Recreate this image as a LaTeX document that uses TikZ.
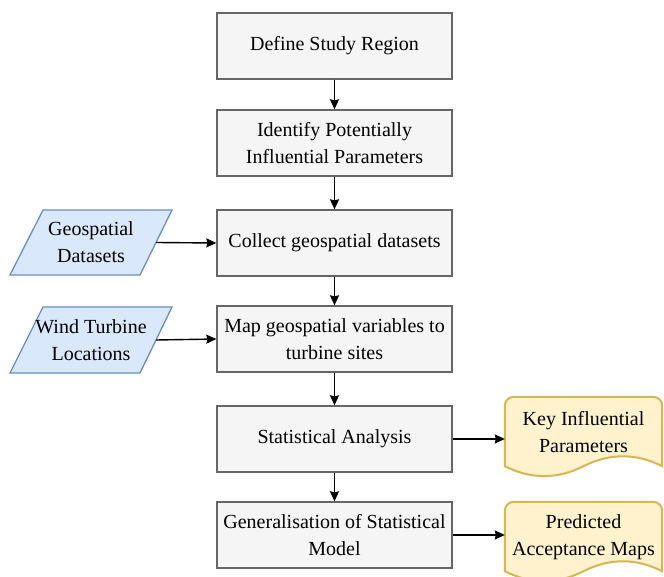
\documentclass[tikz,border=0pt]{standalone}
\usepackage{fontspec}
\setmainfont{Liberation Serif}
\usetikzlibrary{calc,arrows.meta}
\definecolor{boxfill}{HTML}{F5F5F5}
\definecolor{boxline}{HTML}{666666}
\definecolor{parafill}{HTML}{DAE8FC}
\definecolor{paraline}{HTML}{6C8EBF}
\definecolor{docfill}{HTML}{FFF2CC}
\definecolor{docline}{HTML}{D6B656}
\begin{document}
\begin{tikzpicture}[x=1pt,y=-1pt,
  every node/.style={font=\fontsize{20}{27}\selectfont, align=center, inner sep=0pt},
  stepbox/.style={draw=boxline, fill=boxfill, line width=1.3pt, minimum width=235, minimum height=66},
  paranode/.style={minimum width=130, minimum height=65},
  parashape/.style={draw=paraline, fill=parafill, line width=1.3pt},
  docnode/.style={minimum width=157, minimum height=80},
  docshape/.style={draw=docline, fill=docfill, line width=2pt},
  conn/.style={line width=1.4pt, -{Stealth[length=10pt,width=9pt,inset=1pt]}}
]
\useasboundingbox (0,0) rectangle (664,577);
\fill[white] (0,0) rectangle (664,577);

% main steps
\node[stepbox] (s1) at (334.5,46) {Define Study Region};
\node[stepbox] (s2) at (334.5,143) {Identify Potentially\\Influential Parameters};
\node[stepbox] (s3) at (334.5,243) {Collect geospatial datasets};
\node[stepbox] (s4) at (334.5,339) {Map geospatial variables to\\turbine sites};
\node[stepbox] (s5) at (334.5,439) {Statistical Analysis};
\node[stepbox] (s6) at (334.5,535) {Generalisation of Statistical\\Model};

% inputs (parallelograms)
\path[parashape] (43,210) -- (172,210) -- (140,275) -- (10,275) -- cycle;
\node[paranode] (geo) at (91,242.5) {Geospatial\\Datasets};
\path[parashape] (43,307) -- (172,307) -- (140,373) -- (10,373) -- cycle;
\node[paranode] (wind) at (91,340) {Wind Turbine\\Locations};

% outputs (documents)
\node[docnode] (kip) at (583.5,437) {};
\draw[docshape] ($(kip.south west)+(0,-11)$)
  {[rounded corners=9] -- (kip.north west) -- (kip.north east)} -- ($(kip.south east)+(0,-11)$)
  .. controls ($(kip.south east)+(-26,-24.2)$) and ($(kip.south)+(26,-24.2)$) .. ($(kip.south)+(0,-11)$)
  .. controls ($(kip.south)+(-26,2.2)$) and ($(kip.south west)+(26,2.2)$) .. cycle;
\node at (583.5,432) {Key Influential\\Parameters};

\node[docnode] (pam) at (583.5,542) {};
\draw[docshape] ($(pam.south west)+(0,-11)$)
  {[rounded corners=9] -- (pam.north west) -- (pam.north east)} -- ($(pam.south east)+(0,-11)$)
  .. controls ($(pam.south east)+(-26,-24.2)$) and ($(pam.south)+(26,-24.2)$) .. ($(pam.south)+(0,-11)$)
  .. controls ($(pam.south)+(-26,2.2)$) and ($(pam.south west)+(26,2.2)$) .. cycle;
\node at (583.5,537) {Predicted\\Acceptance Maps};

% connectors
\draw[conn] (s1) -- (s2);
\draw[conn] (s2) -- (s3);
\draw[conn] (s3) -- (s4);
\draw[conn] (s4) -- (s5);
\draw[conn] (s5) -- (s6);
\draw[conn] (geo.east) -- (s3.west);
\draw[conn] (wind.east) -- (s4.west);
\draw[conn] (s5.east) -- (kip.west |- s5.east);
\draw[conn] (s6.east) -- (pam.west |- s6.east);
\end{tikzpicture}
\end{document}
